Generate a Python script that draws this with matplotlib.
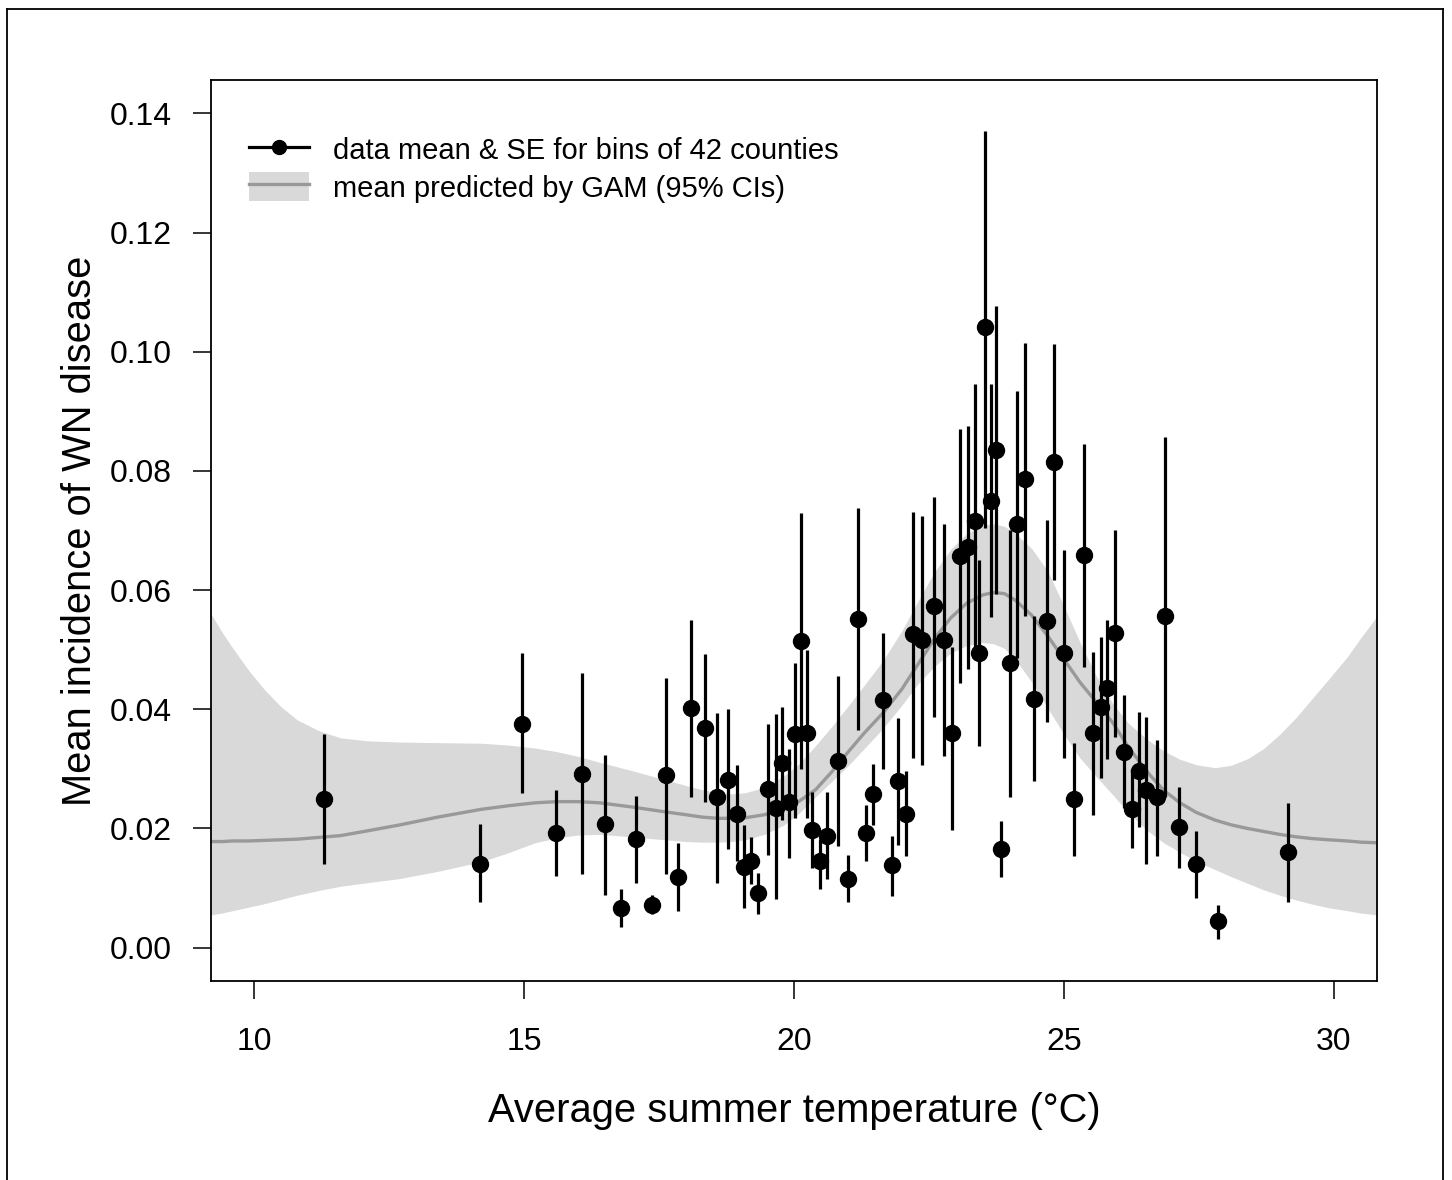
import numpy as np
import matplotlib
matplotlib.use("Agg")
import matplotlib.pyplot as plt
from matplotlib.lines import Line2D
from matplotlib.patches import Patch
from matplotlib.legend_handler import HandlerTuple

plt.rcParams['font.family'] = ['Liberation Sans', 'DejaVu Sans']

# binned data: temperature, mean incidence, lower/upper SE bar
temp = [11.30, 14.19, 14.97, 15.60, 16.07, 16.49, 16.79, 17.07, 17.37, 17.63,
        17.85, 18.09, 18.35, 18.57, 18.78, 18.94, 19.07, 19.20, 19.33, 19.52,
        19.67, 19.78, 19.91, 20.02, 20.13, 20.24, 20.33, 20.48, 20.61, 20.82,
        21.00, 21.18, 21.34, 21.47, 21.65, 21.82, 21.93, 22.08, 22.21, 22.37,
        22.60, 22.78, 22.93, 23.08, 23.23, 23.36, 23.43, 23.54, 23.65, 23.74,
        23.83, 24.01, 24.14, 24.27, 24.45, 24.68, 24.82, 25.01, 25.18, 25.38,
        25.53, 25.68, 25.79, 25.94, 26.12, 26.27, 26.40, 26.53, 26.73, 26.88,
        27.14, 27.44, 27.85, 29.16]
incid = [0.0250, 0.0141, 0.0376, 0.0192, 0.0292, 0.0207, 0.0066, 0.0182, 0.0072, 0.0289,
         0.0119, 0.0402, 0.0368, 0.0252, 0.0282, 0.0225, 0.0136, 0.0146, 0.0092, 0.0266,
         0.0235, 0.0309, 0.0244, 0.0358, 0.0514, 0.0360, 0.0198, 0.0145, 0.0188, 0.0314,
         0.0116, 0.0551, 0.0193, 0.0257, 0.0415, 0.0138, 0.0279, 0.0225, 0.0526, 0.0516,
         0.0573, 0.0516, 0.0360, 0.0657, 0.0672, 0.0716, 0.0494, 0.1042, 0.0750, 0.0835,
         0.0165, 0.0477, 0.0711, 0.0787, 0.0418, 0.0548, 0.0815, 0.0494, 0.0249, 0.0659,
         0.0360, 0.0403, 0.0435, 0.0528, 0.0329, 0.0232, 0.0297, 0.0264, 0.0252, 0.0556,
         0.0202, 0.0141, 0.0044, 0.0160]
se_lo = [0.0141, 0.0077, 0.0259, 0.0121, 0.0123, 0.0089, 0.0034, 0.0108, 0.0056, 0.0124,
         0.0062, 0.0252, 0.0244, 0.0109, 0.0165, 0.0145, 0.0066, 0.0106, 0.0057, 0.0155,
         0.0081, 0.0215, 0.0151, 0.0217, 0.0300, 0.0218, 0.0133, 0.0099, 0.0116, 0.0171,
         0.0077, 0.0365, 0.0146, 0.0205, 0.0300, 0.0087, 0.0173, 0.0153, 0.0318, 0.0306,
         0.0387, 0.0321, 0.0198, 0.0444, 0.0467, 0.0497, 0.0338, 0.0705, 0.0555, 0.0593,
         0.0118, 0.0252, 0.0486, 0.0556, 0.0279, 0.0378, 0.0617, 0.0318, 0.0153, 0.0471,
         0.0222, 0.0284, 0.0316, 0.0353, 0.0235, 0.0168, 0.0202, 0.0141, 0.0153, 0.0252,
         0.0134, 0.0084, 0.0015, 0.0077]
se_hi = [0.0358, 0.0207, 0.0494, 0.0264, 0.0461, 0.0324, 0.0099, 0.0255, 0.0089, 0.0452,
         0.0176, 0.0550, 0.0492, 0.0393, 0.0400, 0.0307, 0.0205, 0.0185, 0.0126, 0.0376,
         0.0392, 0.0403, 0.0334, 0.0477, 0.0729, 0.0499, 0.0262, 0.0183, 0.0261, 0.0455,
         0.0155, 0.0738, 0.0239, 0.0308, 0.0528, 0.0188, 0.0385, 0.0297, 0.0731, 0.0724,
         0.0756, 0.0711, 0.0504, 0.0871, 0.0876, 0.0946, 0.0650, 0.1371, 0.0946, 0.1076,
         0.0212, 0.0701, 0.0934, 0.1015, 0.0556, 0.0718, 0.1013, 0.0667, 0.0343, 0.0845,
         0.0496, 0.0521, 0.0550, 0.0701, 0.0424, 0.0299, 0.0395, 0.0387, 0.0348, 0.0857,
         0.0269, 0.0195, 0.0072, 0.0242]

# GAM prediction
gam_x = [9.2, 9.4, 9.6, 9.9, 10.2, 10.5, 10.8, 11.2, 11.6, 12.1, 12.7, 13.4, 14.2,
         14.7, 15.2, 15.6, 16.0, 16.4, 17.0, 17.6, 18.0, 18.3, 18.6, 18.85, 19.1,
         19.45, 19.8, 20.1, 20.4, 20.7, 21.0, 21.3, 21.65, 22.0, 22.3, 22.6, 22.9,
         23.2, 23.5, 23.7, 23.9, 24.1, 24.4, 24.7, 25.0, 25.3, 25.6, 25.9, 26.2,
         26.55, 26.85, 27.15, 27.45, 27.8, 28.1, 28.4, 28.7, 29.0, 29.3, 29.6,
         29.9, 30.25, 30.5, 30.8]
gam_fit = [0.0178, 0.0178, 0.0179, 0.0179, 0.0180, 0.0181, 0.0182, 0.0185, 0.0188, 0.0196,
           0.0206, 0.0219, 0.0232, 0.0238, 0.0243, 0.0245, 0.0245, 0.0243, 0.0236, 0.0228,
           0.0223, 0.0219, 0.0217, 0.0217, 0.0218, 0.0223, 0.0232, 0.0246, 0.0265, 0.0295,
           0.0328, 0.0360, 0.0394, 0.0434, 0.0476, 0.0518, 0.0553, 0.0578, 0.0592, 0.0596,
           0.0594, 0.0583, 0.0558, 0.0523, 0.0484, 0.0445, 0.0412, 0.0378, 0.0336, 0.0294,
           0.0264, 0.0243, 0.0227, 0.0214, 0.0206, 0.0200, 0.0195, 0.0190, 0.0186, 0.0183,
           0.0181, 0.0179, 0.0177, 0.0176]
gam_hi = [0.0560, 0.0530, 0.0503, 0.0465, 0.0432, 0.0404, 0.0382, 0.0364, 0.0352, 0.0347,
          0.0345, 0.0344, 0.0343, 0.0340, 0.0335, 0.0329, 0.0321, 0.0311, 0.0297, 0.0282,
          0.0272, 0.0265, 0.0260, 0.0258, 0.0260, 0.0269, 0.0287, 0.0309, 0.0339, 0.0371,
          0.0405, 0.0440, 0.0482, 0.0532, 0.0582, 0.0630, 0.0668, 0.0695, 0.0709, 0.0711,
          0.0707, 0.0695, 0.0670, 0.0632, 0.0573, 0.0512, 0.0456, 0.0410, 0.0376, 0.0349,
          0.0330, 0.0316, 0.0307, 0.0302, 0.0306, 0.0317, 0.0334, 0.0358, 0.0386, 0.0418,
          0.0450, 0.0488, 0.0520, 0.0556]
gam_lo = [0.0055, 0.0058, 0.0062, 0.0068, 0.0074, 0.0081, 0.0088, 0.0096, 0.0103, 0.0109,
          0.0116, 0.0128, 0.0144, 0.0159, 0.0176, 0.0184, 0.0189, 0.0190, 0.0186, 0.0181,
          0.0178, 0.0177, 0.0177, 0.0178, 0.0181, 0.0190, 0.0205, 0.0226, 0.0253, 0.0279,
          0.0305, 0.0334, 0.0368, 0.0407, 0.0443, 0.0472, 0.0494, 0.0507, 0.0512, 0.0510,
          0.0502, 0.0484, 0.0446, 0.0402, 0.0358, 0.0318, 0.0287, 0.0257, 0.0226, 0.0196,
          0.0176, 0.0160, 0.0145, 0.0131, 0.0119, 0.0108, 0.0097, 0.0088, 0.0080, 0.0073,
          0.0067, 0.0062, 0.0058, 0.0055]

fig = plt.figure(figsize=(14.52, 11.80), dpi=100)
ax = fig.add_axes([211/1452, 1 - 981/1180, (1377-211)/1452, (981-80)/1180])

band_col = '#d9d9d9'
line_col = '#999999'
ax.fill_between(gam_x, gam_lo, gam_hi, color=band_col, lw=0, zorder=1)
ax.plot(gam_x, gam_fit, color=line_col, lw=2.4, zorder=2)

t = np.array(temp); m = np.array(incid)
yerr = [m - np.array(se_lo), np.array(se_hi) - m]
ax.errorbar(t, m, yerr=yerr, fmt='o', color='black', ms=11.5, elinewidth=2.3,
            capsize=0, zorder=3)

ax.set_xlim(9.2, 30.8)
ax.set_ylim(-0.0056, 0.1456)
ax.set_xticks([10, 15, 20, 25, 30])
ax.set_yticks(np.arange(0, 0.141, 0.02))
ax.set_yticklabels(['%.2f' % v for v in np.arange(0, 0.141, 0.02)])
ax.tick_params(direction='out', length=13, width=1.1, labelsize=23, pad=15)
ax.tick_params(axis='x', pad=20)
for s in ax.spines.values():
    s.set_linewidth(1.3)

ax.set_xlabel('Average summer temperature (°C)', fontsize=28.7, labelpad=25)
ax.set_ylabel('Mean incidence of WN disease', fontsize=28.7, labelpad=8)

h1 = Line2D([], [], color='black', marker='o', ms=10, lw=2.3)
h2p = Patch(facecolor=band_col, edgecolor='none')
h2l = Line2D([], [], color=line_col, lw=2.4)
ax.legend([h1, (h2p, h2l)],
          ['data mean & SE for bins of 42 counties', 'mean predicted by GAM (95% CIs)'],
          handler_map={tuple: HandlerTuple(ndivide=1, pad=0)},
          loc='upper left', bbox_to_anchor=(0.0326, 0.9394), frameon=False,
          fontsize=21, handlelength=2.05, handleheight=1.15, handletextpad=0.82,
          labelspacing=0.25, borderaxespad=0, borderpad=0)

# outer frame of the figure panel
fr = dict(color='black', lw=1.3, transform=fig.transFigure)
fig.add_artist(Line2D([7/1452, 7/1452], [0, 1 - 9/1180], **fr))
fig.add_artist(Line2D([7/1452, 1443/1452], [1 - 9/1180, 1 - 9/1180], **fr))
fig.add_artist(Line2D([1443/1452, 1443/1452], [0, 1 - 9/1180], **fr))

fig.savefig('out.png', dpi=100)
